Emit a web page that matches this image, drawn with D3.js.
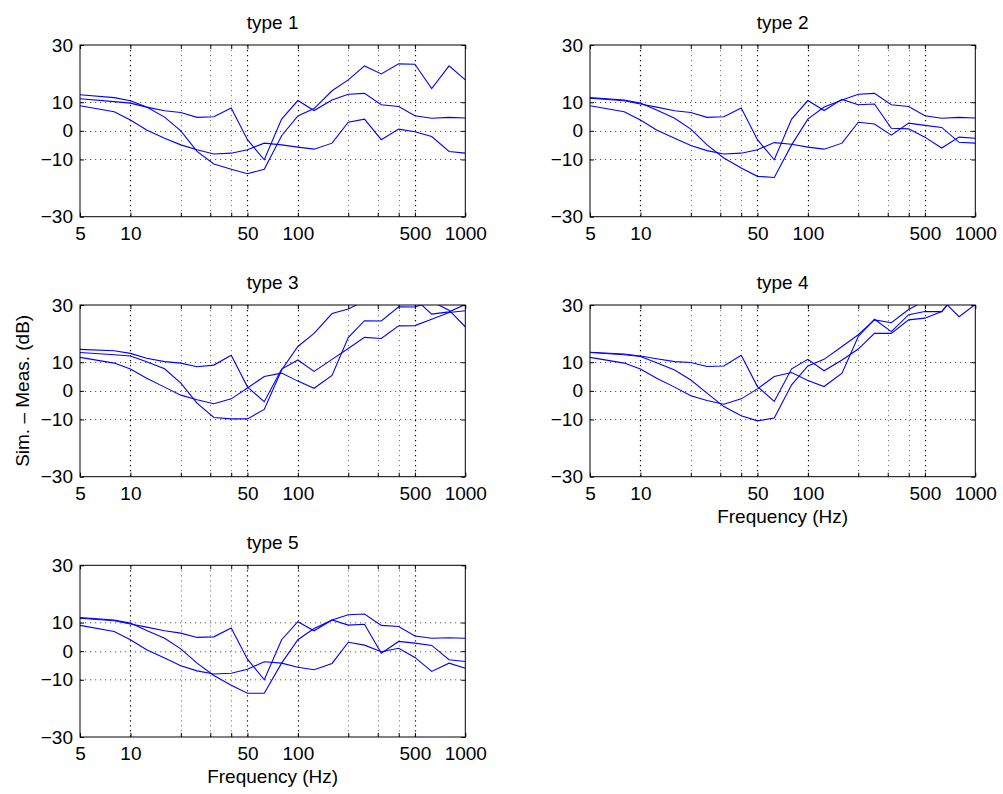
<!DOCTYPE html>
<html>
<head>
<meta charset="utf-8">
<script src="https://cdn.jsdelivr.net/npm/d3@7"></script>
<style>
  html, body { margin: 0; padding: 0; background: #fff; }
  svg { display: block; }
  text { font-family: "Liberation Sans", Arial, Helvetica, sans-serif; fill: #000; }
</style>
</head>
<body>
<svg id="chart" width="1003" height="794"></svg>
<script>
// ---------------- data ----------------
const freqs = [5, 8, 10, 12.5, 16, 20, 25, 31.5, 40, 50, 63, 80, 100, 125, 160, 200, 250, 315, 400, 500, 630, 800, 1000];

const type1_a = [12.6, 11.6, 10.5, 8.3, 4.8, 0.0, -7.2, -11.6, -13.4, -15.0, -13.4, -1.7, 5.2, 7.8, 14.0, 17.8, 22.7, 19.9, 23.4, 23.3, 14.8, 22.7, 17.8];
const type1_b = [11.2, 10.2, 9.7, 8.3, 7.0, 6.4, 4.7, 4.9, 8.0, -3.1, -10.1, 4.1, 10.6, 7.1, 10.8, 12.8, 13.1, 9.1, 8.5, 5.3, 4.4, 4.7, 4.5];
const type1_c = [8.8, 6.7, 3.8, 0.3, -2.6, -4.9, -6.6, -8.1, -7.8, -6.6, -4.3, -4.9, -5.7, -6.4, -4.3, 3.0, 4.1, -3.1, 0.6, -0.3, -2.0, -7.2, -7.8];

const type2_a = [11.6, 10.8, 9.7, 7.3, 4.4, 0.6, -4.9, -9.5, -13.0, -15.9, -16.3, -4.9, 4.1, 8.3, 10.8, 12.8, 13.1, 9.1, 8.5, 5.3, 4.4, 4.7, 4.5];
const type2_b = [11.4, 10.5, 9.4, 8.3, 7.0, 6.4, 4.7, 4.9, 8.0, -3.1, -10.1, 4.1, 10.6, 7.1, 11.0, 9.1, 9.4, 0.9, 0.7, -2.2, -6.0, -2.2, -2.6];
const type2_c = [8.8, 6.7, 3.8, 0.3, -2.6, -5.1, -6.9, -8.1, -7.8, -6.6, -4.1, -4.7, -5.7, -6.4, -4.3, 3.0, 2.4, -1.5, 2.7, 1.9, 1.2, -4.0, -4.3];

const type3_a = [14.5, 14.0, 13.1, 11.4, 10.2, 9.7, 8.4, 9.0, 12.4, 1.4, -3.8, 7.6, 10.8, 6.8, 11.0, 14.8, 18.7, 18.3, 22.7, 22.8, 25.0, 27.4, 28.0];
const type3_b = [13.4, 12.6, 12.2, 10.2, 7.7, 2.7, -4.3, -9.3, -9.8, -9.8, -6.5, 7.3, 15.5, 20.1, 27.0, 28.6, 31.4, 32.5, 34.0, 32.2, 26.8, 27.6, 30.2];
const type3_c = [11.7, 9.7, 7.6, 4.4, 1.3, -1.5, -3.1, -4.5, -2.8, 1.0, 5.0, 6.2, 3.4, 0.9, 5.4, 18.6, 24.5, 24.4, 29.4, 29.3, 31.2, 28.2, 22.4];

const type4_a = [13.5, 12.9, 12.2, 11.2, 10.2, 9.9, 8.5, 8.7, 12.4, 1.5, -3.7, 7.7, 11.0, 7.0, 10.8, 14.6, 20.1, 20.1, 24.8, 25.4, 27.7, 35.0, 36.0];
const type4_b = [13.4, 12.6, 12.0, 9.8, 7.3, 3.8, -0.8, -5.5, -8.7, -10.5, -9.5, 2.1, 8.7, 11.0, 15.5, 19.6, 24.8, 23.8, 28.4, 31.5, 32.0, 25.9, 30.2];
const type4_c = [11.7, 9.7, 7.6, 4.4, 1.3, -1.7, -3.4, -4.7, -2.8, 0.7, 5.0, 6.4, 3.6, 1.5, 6.2, 19.0, 25.0, 20.7, 26.6, 27.7, 27.7, 35.0, 36.0];

const type5_a = [11.7, 10.9, 9.8, 7.2, 4.5, 0.8, -4.2, -8.5, -11.9, -14.7, -14.7, -4.2, 4.0, 7.9, 10.9, 12.7, 13.0, 9.0, 8.6, 5.3, 4.5, 4.7, 4.5];
const type5_b = [11.5, 10.6, 9.5, 8.4, 7.1, 6.3, 4.8, 5.0, 8.1, -2.8, -10.0, 4.0, 10.3, 7.1, 10.9, 9.1, 9.4, -0.7, 3.4, 2.8, 2.0, -3.0, -3.6];
const type5_c = [9.0, 6.9, 4.0, 0.5, -2.4, -5.1, -6.9, -8.0, -7.7, -6.3, -3.7, -4.2, -5.6, -6.5, -4.3, 3.1, 2.1, -0.2, 1.0, -2.2, -7.1, -4.2, -6.0];

const titles = ["type 1", "type 2", "type 3", "type 4", "type 5"];
const xTicks = [5, 10, 20, 30, 40, 50, 100, 200, 300, 400, 500, 1000];
const xTickLabels = [5, 10, 50, 100, 500, 1000];
const yTicks = [-30, -10, 0, 10, 30];
const yGrid = [-10, 0, 10];
const xDomain = [5, 1000];
const yDomain = [-30, 30];
const yLabel = "Sim. \u2013 Meas. (dB)";
const xLabel = "Frequency (Hz)";

const panelSeries = [
  [type1_a, type1_b, type1_c],
  [type2_a, type2_b, type2_c],
  [type3_a, type3_b, type3_c],
  [type4_a, type4_b, type4_c],
  [type5_a, type5_b, type5_c]
];

// ---------------- layout ----------------
const W = 385.3, H = 171.7;
const origins = [[80, 45], [590, 45], [80, 305], [590, 305], [80, 565.3]];
const showXLabel = [false, false, false, true, true];
const FS = 19;

const svg = d3.select("#chart");
const defs = svg.append("defs");

const fmtX = d => (xTickLabels.includes(d) ? String(d) : "");
const fmtY = d => (d < 0 ? "\u2212" + Math.abs(d) : String(d));

panelSeries.forEach((series, i) => {
  const [ox, oy] = origins[i];
  const x = d3.scaleLog().domain(xDomain).range([0, W]);
  const y = d3.scaleLinear().domain(yDomain).range([H, 0]);
  const g = svg.append("g").attr("transform", `translate(${ox},${oy})`);

  // clip
  defs.append("clipPath").attr("id", "clip" + i)
    .append("rect").attr("x", 0).attr("y", 0).attr("width", W).attr("height", H);

  // grid
  const gridG = g.append("g");
  xTicks.filter(t => t > xDomain[0] && t < xDomain[1]).forEach(t => {
    const major = xTickLabels.includes(t);
    const px = Math.round(x(t)) + 0.5;
    gridG.append("line")
      .attr("x1", px).attr("x2", px).attr("y1", 0).attr("y2", H)
      .attr("stroke", major ? "#000" : "#777")
      .attr("stroke-width", major ? 1.2 : 1)
      .attr("stroke-dasharray", "1.2,3.8");
  });
  yGrid.forEach(t => {
    const py = Math.round(y(t)) + 0.5;
    gridG.append("line")
      .attr("x1", 0).attr("x2", W).attr("y1", py).attr("y2", py)
      .attr("stroke", "#555")
      .attr("stroke-width", 1)
      .attr("stroke-dasharray", "1.2,3.8");
  });

  // lines
  const line = d3.line().x((d, k) => x(freqs[k])).y(d => y(d));
  const lg = g.append("g").attr("clip-path", `url(#clip${i})`);
  series.forEach(s => {
    lg.append("path").datum(s)
      .attr("d", line)
      .attr("fill", "none")
      .attr("stroke", "#0000ff")
      .attr("stroke-width", 1.1)
      .attr("stroke-linejoin", "miter");
  });

  // axes
  const axB = d3.axisBottom(x).tickValues(xTicks).tickFormat(fmtX).tickSizeInner(-4).tickSizeOuter(0).tickPadding(10);
  const axT = d3.axisTop(x).tickValues(xTicks).tickFormat("").tickSizeInner(-4).tickSizeOuter(0);
  const axL = d3.axisLeft(y).tickValues(yTicks).tickFormat(fmtY).tickSizeInner(-4).tickSizeOuter(0).tickPadding(10);
  const axR = d3.axisRight(y).tickValues(yTicks).tickFormat("").tickSizeInner(-4).tickSizeOuter(0);

  const gb = g.append("g").attr("transform", `translate(0,${H})`).call(axB);
  const gt = g.append("g").call(axT);
  const gl = g.append("g").call(axL);
  const gr = g.append("g").attr("transform", `translate(${W},0)`).call(axR);
  [gb, gt, gl, gr].forEach(a => {
    a.select(".domain").remove();
    a.selectAll(".tick line").attr("stroke", "#000");
    a.selectAll("text").attr("font-family", null).attr("font-size", FS).attr("fill", "#000");
  });
  gb.selectAll(".tick text").attr("dy", "0.71em").attr("y", 10);
  gl.selectAll(".tick text").attr("x", -7);

  // frame
  g.append("rect").attr("x", 0).attr("y", 0).attr("width", W).attr("height", H)
    .attr("fill", "none").attr("stroke", "#000").attr("stroke-width", 1);

  // title
  g.append("text").attr("x", W / 2).attr("y", -16)
    .attr("text-anchor", "middle").attr("font-size", FS).text(titles[i]);

  if (showXLabel[i]) {
    g.append("text").attr("x", W / 2).attr("y", H + 46)
      .attr("text-anchor", "middle").attr("font-size", FS).text(xLabel);
  }
});

// y label
svg.append("text")
  .attr("transform", `translate(29,${origins[2][1] + H / 2}) rotate(-90)`)
  .attr("text-anchor", "middle").attr("font-size", FS).text(yLabel);
</script>
</body>
</html>
